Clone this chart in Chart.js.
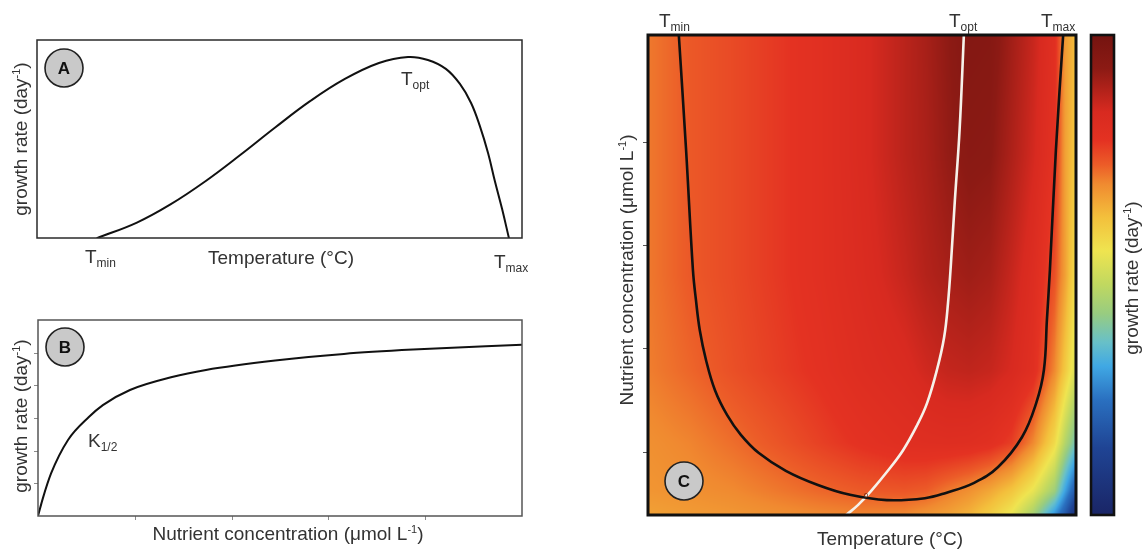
<!DOCTYPE html>
<html><head><meta charset="utf-8">
<script src="https://cdn.jsdelivr.net/npm/chart.js@4.4.1/dist/chart.umd.min.js"></script>
<style>
html,body{margin:0;padding:0;background:#fff;}
#wrap{position:relative;width:1142px;height:551px;overflow:hidden;background:#fff;}
#wrap canvas{position:absolute;left:0;top:0;width:1142px;height:551px;}
</style></head><body>
<div id="wrap">
<canvas id="cA" width="1142" height="551"></canvas>
<canvas id="cB" width="1142" height="551"></canvas>
<canvas id="cC" width="1142" height="551"></canvas>
<canvas id="cD" width="1142" height="551"></canvas>
</div>
<script>
// ---------- DATA ----------
// Panel A: growth rate vs temperature (relative units, 0..100 on the temperature axis)
const tempA   = [12.45, 20.6, 27.6, 34.8, 41.9, 49.1, 56.3, 63.3, 70.5, 76.5, 80.6, 84.3, 87.2, 89.5, 91.3, 93.0, 94.4, 95.9, 97.3];
const growthA = [0, 0.078, 0.171, 0.288, 0.419, 0.558, 0.691, 0.801, 0.884, 0.914, 0.899, 0.854, 0.778, 0.682, 0.566, 0.429, 0.288, 0.146, 0];

// Panel B: growth rate vs nutrient concentration
const nutrientB = [0, 1.0, 2.7, 6.2, 10.5, 13.4, 19.0, 27.7, 34.7, 49.0, 63.2, 77.5, 100];
const growthB   = [0, 0.09, 0.217, 0.388, 0.505, 0.566, 0.643, 0.709, 0.745, 0.793, 0.827, 0.849, 0.874];
const ticksBX = [20, 40, 60, 80];
const ticksBY = [0.167, 0.333, 0.5, 0.667, 0.833];

// Panel C: zero-growth contour (Tmin..Tmax) and optimum temperature line
const contourT = [7.2, 8.9, 10.5, 11.2, 12.1, 13.55, 15.65, 18.5, 21.7, 25.9, 32.2, 39.7, 47.2, 55.8, 64.7, 69.6, 76.2, 81.8, 87.4, 90.7, 92.5, 93.2, 93.9, 95.3, 97.0];
const contourN = [100, 76.0, 51.0, 44.8, 38.5, 32.3, 26.0, 20.8, 16.7, 12.9, 9.2, 6.25, 4.2, 3.1, 3.5, 4.6, 6.7, 10.0, 16.25, 23.3, 30.2, 40.6, 51.0, 76.0, 100];
const optT = [46.3, 49.1, 52.3, 55.8, 59.6, 62.9, 65.2, 67.5, 69.2, 70.1, 70.8, 71.7, 72.8, 73.8];
const optN = [0, 2.1, 5.2, 8.96, 13.5, 18.75, 23.3, 30.2, 37.1, 44.2, 52.7, 65.6, 80.2, 100];
const ticksCY = [13.2, 34.8, 56.3, 77.8];

// Heat map grid: growth rate (colour-bar units, 0 = bottom of bar, 1 = top)
const heatT = [0, 10, 20, 30, 40, 50, 60, 65, 70, 75, 80, 85, 90, 95, 97.5, 100];
const heatN = [0, 5, 15, 30, 50, 75, 100];
const heatN0   = [.66, .668, .674, .682, .689, .694, .69, .675, .66, .637, .595, .54, .44, .28, .18, .05];
const heatN5   = [.675, .682, .69, .705, .72, .733, .737, .73, .705, .682, .652, .61, .54, .43, .30, .18];
const heatN15  = [.682, .695, .715, .738, .762, .785, .803, .807, .81, .807, .795, .765, .69, .57, .46, .37];
const heatN30  = [.70, .722, .745, .765, .785, .812, .832, .85, .864, .869, .861, .839, .80, .69, .60, .51];
const heatN50  = [.705, .735, .752, .772, .795, .826, .861, .883, .898, .908, .898, .861, .817, .745, .66, .56];
const heatN75  = [.705, .735, .752, .772, .795, .833, .876, .894, .92, .937, .932, .891, .847, .785, .66, .60];
const heatN100 = [.705, .735, .752, .772, .795, .833, .876, .898, .926, .954, .949, .905, .861, .80, .67, .62];
const heatG = [heatN0, heatN5, heatN15, heatN30, heatN50, heatN75, heatN100];

// Colour bar
const cbarValues = [0, .14, .24, .31, .36, .42, .48, .55, .62, .69, .73, .78, .84, .93, 1];
const cbarColors = ['#1a2566','#1f4494','#2a70c0','#40a8e4','#68c0c8','#98cc80','#c0d860','#efe450','#f3c03c','#f08a30','#ec5c28','#e43222','#d82a20','#8c1a14','#741410'];

// ---------- HELPERS ----------
const FONT = "'Liberation Sans', Arial, Helvetica, sans-serif";
const TXT = '#333';
const W = 1142, H = 551;

function drawRich(ctx, parts, x, y, align, rot) {
  ctx.save();
  ctx.translate(x, y);
  if (rot) ctx.rotate(rot);
  let w = 0;
  parts.forEach(p => { ctx.font = p.font; p.w = ctx.measureText(p.t).width; w += p.w; });
  let cx = align === 'center' ? -w / 2 : 0;
  ctx.textBaseline = 'alphabetic';
  ctx.textAlign = 'left';
  parts.forEach(p => { ctx.font = p.font; ctx.fillStyle = p.color || TXT; ctx.fillText(p.t, cx, p.dy || 0); cx += p.w; });
  ctx.restore();
}
const big = `19px ${FONT}`, small = `12px ${FONT}`, sup = `11px ${FONT}`;
function growthLabel(ctx, x, y) {
  drawRich(ctx, [{t:'growth rate (day', font:big}, {t:'-1', font:sup, dy:-7}, {t:')', font:big}], x, y, 'center', -Math.PI/2);
}
function nutrientLabel(ctx, x, y, rot) {
  drawRich(ctx, [{t:'Nutrient concentration (\u03bcmol L', font:big}, {t:'-1', font:sup, dy:-7}, {t:')', font:big}], x, y, 'center', rot);
}
function tLabel(ctx, sub, x, y) {
  drawRich(ctx, [{t:'T', font:big}, {t:sub, font:small, dy:4}], x, y, 'left', 0);
}
function circleLabel(ctx, letter, x, y, r) {
  ctx.save();
  ctx.beginPath(); ctx.arc(x, y, r, 0, Math.PI*2);
  ctx.fillStyle = '#c9c9c9'; ctx.fill();
  ctx.lineWidth = 1.6; ctx.strokeStyle = '#222'; ctx.stroke();
  ctx.fillStyle = '#111'; ctx.font = `bold 17px ${FONT}`;
  ctx.textAlign = 'center'; ctx.textBaseline = 'middle';
  ctx.fillText(letter, x, y + 1);
  ctx.restore();
}
function frame(ctx, area, color, lw) {
  ctx.save(); ctx.strokeStyle = color; ctx.lineWidth = lw;
  ctx.strokeRect(area.left, area.top, area.right - area.left, area.bottom - area.top);
  ctx.restore();
}
const pts = (xs, ys) => xs.map((x, i) => ({x, y: ys[i]}));
const baseOpts = (pad, xr, yr) => ({
  responsive: false, animation: false, events: [],
  layout: {padding: pad},
  scales: {
    x: {type:'linear', min:xr[0], max:xr[1], display:false},
    y: {type:'linear', min:yr[0], max:yr[1], display:false}
  },
  plugins: {legend:{display:false}, tooltip:{enabled:false}}
});
const lineDs = (data, color, width, tension) => ({data, borderColor:color, borderWidth:width, pointRadius:0, fill:false, tension: tension, borderCapStyle:'round', borderJoinStyle:'round'});

// ---------- PANEL A ----------
new Chart(document.getElementById('cA'), {
  type: 'line',
  data: {datasets: [lineDs(pts(tempA, growthA), '#111', 2, 0.4)]},
  options: baseOpts({left:37, top:40, right:W-522, bottom:H-238}, [0,100], [0,1]),
  plugins: [{id:'pa', afterDraw(chart) {
    const ctx = chart.ctx, a = chart.chartArea;
    frame(ctx, a, '#2a2a2a', 1.5);
    circleLabel(ctx, 'A', 64, 68, 19);
    tLabel(ctx, 'opt', 401, 85);
    tLabel(ctx, 'min', 85, 263);
    tLabel(ctx, 'max', 494, 268);
    drawRich(ctx, [{t:'Temperature (\u00b0C)', font:big}], 281, 264, 'center', 0);
    growthLabel(ctx, 27, 139);
  }}]
});

// ---------- PANEL B ----------
new Chart(document.getElementById('cB'), {
  type: 'line',
  data: {datasets: [{...lineDs(pts(nutrientB, growthB), '#111', 2, 0), cubicInterpolationMode:'monotone'}]},
  options: baseOpts({left:38, top:320, right:W-522, bottom:H-516}, [0,100], [0,1]),
  plugins: [{id:'pb', afterDraw(chart) {
    const ctx = chart.ctx, a = chart.chartArea, xs = chart.scales.x, ys = chart.scales.y;
    ctx.save(); ctx.strokeStyle = '#8a8a8a'; ctx.lineWidth = 1;
    ticksBX.forEach(t => { const px = Math.round(xs.getPixelForValue(t)) + 0.5; ctx.beginPath(); ctx.moveTo(px, a.bottom); ctx.lineTo(px, a.bottom + 4); ctx.stroke(); });
    ticksBY.forEach(t => { const py = Math.round(ys.getPixelForValue(t)) + 0.5; ctx.beginPath(); ctx.moveTo(a.left - 4, py); ctx.lineTo(a.left, py); ctx.stroke(); });
    ctx.restore();
    frame(ctx, a, '#555', 1.5);
    circleLabel(ctx, 'B', 65, 347, 19);
    drawRich(ctx, [{t:'K', font:big}, {t:'1/2', font:small, dy:4}], 88, 447, 'left', 0);
    nutrientLabel(ctx, 288, 540, 0);
    growthLabel(ctx, 27, 416);
  }}]
});

// ---------- PANEL C (heat map) ----------
const rgbStops = cbarColors.map(h => [parseInt(h.slice(1,3),16), parseInt(h.slice(3,5),16), parseInt(h.slice(5,7),16)]);
function colorFor(g) {
  g = Math.max(0, Math.min(1, g));
  let k = 0;
  while (k < cbarValues.length - 2 && g > cbarValues[k+1]) k++;
  const t = (g - cbarValues[k]) / (cbarValues[k+1] - cbarValues[k]);
  const c0 = rgbStops[k], c1 = rgbStops[k+1];
  return [c0[0] + (c1[0]-c0[0])*t, c0[1] + (c1[1]-c0[1])*t, c0[2] + (c1[2]-c0[2])*t];
}
function seg(arr, v) {
  let i = 0;
  while (i < arr.length - 2 && v > arr[i+1]) i++;
  return i;
}
function gridValue(u, v) {
  const i = seg(heatT, u), j = seg(heatN, v);
  const a = Math.max(0, Math.min(1, (u - heatT[i]) / (heatT[i+1] - heatT[i])));
  const b = Math.max(0, Math.min(1, (v - heatN[j]) / (heatN[j+1] - heatN[j])));
  const g00 = heatG[j][i], g10 = heatG[j][i+1], g01 = heatG[j+1][i], g11 = heatG[j+1][i+1];
  return (g00*(1-a) + g10*a)*(1-b) + (g01*(1-a) + g11*a)*b;
}
const heatPlugin = {id:'heat', beforeDatasetsDraw(chart) {
  const ctx = chart.ctx, a = chart.chartArea, xs = chart.scales.x, ys = chart.scales.y;
  const w = Math.round(a.right - a.left), h = Math.round(a.bottom - a.top);
  const off = document.createElement('canvas'); off.width = w; off.height = h;
  const octx = off.getContext('2d');
  const img = octx.createImageData(w, h);
  for (let py = 0; py < h; py++) {
    const v = ys.getValueForPixel(a.top + py + 0.5);
    for (let px = 0; px < w; px++) {
      const u = xs.getValueForPixel(a.left + px + 0.5);
      const c = colorFor(gridValue(u, v));
      const o = (py*w + px)*4;
      img.data[o] = c[0]; img.data[o+1] = c[1]; img.data[o+2] = c[2]; img.data[o+3] = 255;
    }
  }
  octx.putImageData(img, 0, 0);
  ctx.drawImage(off, a.left, a.top);
}, afterDraw(chart) {
  const ctx = chart.ctx, a = chart.chartArea, ys = chart.scales.y;
  ctx.save(); ctx.strokeStyle = '#555'; ctx.lineWidth = 1;
  ticksCY.forEach(t => { const py = Math.round(ys.getPixelForValue(t)) + 0.5; ctx.beginPath(); ctx.moveTo(a.left - 5, py); ctx.lineTo(a.left, py); ctx.stroke(); });
  ctx.restore();
  ctx.save(); ctx.fillStyle = '#6a2410'; ctx.font = `8px ${FONT}`; ctx.textAlign = 'center';
  ctx.fillText('0', 866, 498); ctx.restore();
  frame(ctx, a, '#111', 3);
  circleLabel(ctx, 'C', 684, 481, 19);
  tLabel(ctx, 'min', 659, 27);
  tLabel(ctx, 'opt', 949, 27);
  tLabel(ctx, 'max', 1041, 27);
  drawRich(ctx, [{t:'Temperature (\u00b0C)', font:big}], 890, 545, 'center', 0);
  nutrientLabel(ctx, 633, 270, -Math.PI/2);
}};
new Chart(document.getElementById('cC'), {
  type: 'line',
  data: {datasets: [
    lineDs(pts(contourT, contourN), '#111', 2.6, 0.4),
    lineDs(pts(optT, optN), '#f6f1ea', 2.6, 0.4)
  ]},
  options: baseOpts({left:648, top:35, right:W-1076, bottom:H-515}, [0,100], [0,100]),
  plugins: [heatPlugin]
});

// ---------- COLOUR BAR ----------
new Chart(document.getElementById('cD'), {
  type: 'line',
  data: {datasets: []},
  options: baseOpts({left:1091, top:35, right:W-1114, bottom:H-515}, [0,1], [0,1]),
  plugins: [{id:'cbar', afterDraw(chart) {
    const ctx = chart.ctx, a = chart.chartArea, ys = chart.scales.y;
    const y0 = ys.getPixelForValue(0), y1 = ys.getPixelForValue(1);
    const grad = ctx.createLinearGradient(0, y0, 0, y1);
    cbarValues.forEach((v, i) => grad.addColorStop(v, cbarColors[i]));
    ctx.save(); ctx.fillStyle = grad;
    ctx.fillRect(a.left, a.top, a.right - a.left, a.bottom - a.top);
    ctx.restore();
    frame(ctx, a, '#111', 2.6);
    growthLabel(ctx, 1138, 278);
  }}]
});
</script>
</body></html>
